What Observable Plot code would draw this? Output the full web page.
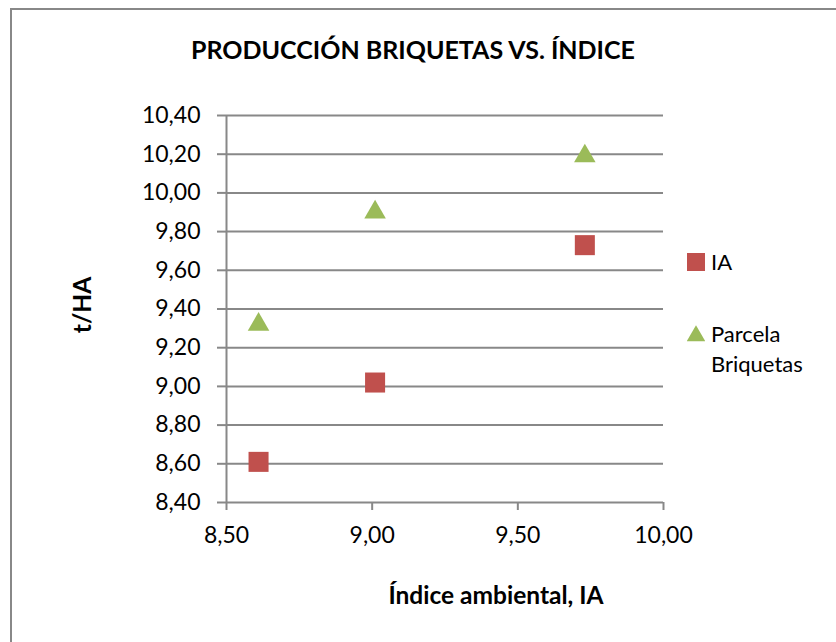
<!DOCTYPE html>
<html>
<head>
<meta charset="utf-8">
<script src="https://cdn.jsdelivr.net/npm/d3@7"></script>
<script src="https://cdn.jsdelivr.net/npm/@observablehq/plot@0.6"></script>
<style>
  body { margin: 0; background: #fff; }
  #wrap { position: relative; width: 836px; height: 642px; overflow: hidden; font-family: Lato, sans-serif; color: #000; }
  #frame { position: absolute; left: 10px; top: 8px; width: 900px; height: 900px; border: 2px solid #888; box-sizing: border-box; }
  #chart { position: absolute; left: 0; top: 0; }
  #legend { position: absolute; left: 687px; top: 247px; font-size: 22px; line-height: 30px; }
  .item { display: flex; align-items: flex-start; margin-bottom: 42px; }
  .item svg { flex: none; margin-right: 6px; margin-top: 6px; }
</style>
</head>
<body>
<div id="wrap">
  <div id="frame"></div>
  <div id="chart"></div>
  <div id="legend"></div>
</div>
<script>
// ---- data ----
const indiceAmbiental = [8.61, 9.01, 9.73];
const iaValues        = [8.61, 9.02, 9.73];
const parcelaValues   = [9.32, 9.90, 10.19];
const seriesNames     = ["IA", "Parcela Briquetas"];
const seriesColors    = ["#C0504D", "#9BBB59"];
const seriesSymbols   = ["square", "triangle"];
const xTicks = [8.5, 9.0, 9.5, 10.0];
const yTicks = [8.4, 8.6, 8.8, 9.0, 9.2, 9.4, 9.6, 9.8, 10.0, 10.2, 10.4];
const chartTitle = "PRODUCCIÓN BRIQUETAS VS. ÍNDICE";
const xTitle = "Índice ambiental, IA";
const yTitle = "t/HA";

const iaRows = indiceAmbiental.map((x, i) => ({x, y: iaValues[i]}));
const parcelaRows = indiceAmbiental.map((x, i) => ({x, y: parcelaValues[i]}));

const fmt = d => d3.format(".2f")(d).replace(".", ",");
const grid = "#888";

const chart = Plot.plot({
  width: 836,
  height: 642,
  marginLeft: 226,
  marginRight: 173,
  marginTop: 115,
  marginBottom: 140,
  style: { fontFamily: "Lato, sans-serif", fontSize: "23px", color: "#000", background: "transparent" },
  x: { domain: [8.5, 10] },
  y: { domain: [8.4, 10.4] },
  marks: [
    Plot.gridY(yTicks, { stroke: grid, strokeOpacity: 1, strokeWidth: 2 }),
    Plot.ruleX([8.5], { stroke: grid, strokeWidth: 2 }),
    Plot.axisY(yTicks, { tickSize: 9, tickPadding: 17, tickFormat: fmt, stroke: grid, strokeWidth: 2, fill: "#000", label: null }),
    Plot.axisX(xTicks, { tickSize: 8, tickPadding: 16, tickFormat: fmt, stroke: grid, strokeWidth: 2, fill: "#000", label: null }),
    Plot.dot(iaRows, { x: "x", y: "y", symbol: seriesSymbols[0], fill: seriesColors[0], r: 11.3 }),
    Plot.dot(parcelaRows, { x: "x", y: "y", symbol: seriesSymbols[1], fill: seriesColors[1], r: 8 }),
    Plot.text([chartTitle], { frameAnchor: "top", dx: -32, dy: -74, fontWeight: "bold", fontSize: 25 }),
    Plot.text([xTitle], { frameAnchor: "bottom", dx: 51, dy: 101, fontWeight: "bold", fontSize: 24.5 }),
    Plot.text([yTitle], { frameAnchor: "left", textAnchor: "middle", dx: -143, dy: -4, rotate: -90, fontWeight: "bold", fontSize: 24.5 })
  ]
});
document.getElementById("chart").appendChild(chart);

// ---- legend ----
const legend = d3.select("#legend");
const symPath = {
  square: d3.symbol(d3.symbolSquare, 18 * 18)(),
  triangle: d3.symbol(d3.symbolTriangle, 150)()
};
const legendLines = [["IA"], ["Parcela", "Briquetas"]];
seriesNames.forEach((name, i) => {
  const item = legend.append("div").attr("class", "item");
  const svg = item.append("svg").attr("width", 18).attr("height", 18).attr("viewBox", "-9 -9 18 18");
  svg.append("path").attr("d", symPath[seriesSymbols[i]]).attr("fill", seriesColors[i])
     .attr("transform", seriesSymbols[i] === "triangle" ? "translate(0,2)" : null);
  const t = item.append("div");
  legendLines[i].forEach(l => t.append("div").text(l));
});
</script>
</body>
</html>
